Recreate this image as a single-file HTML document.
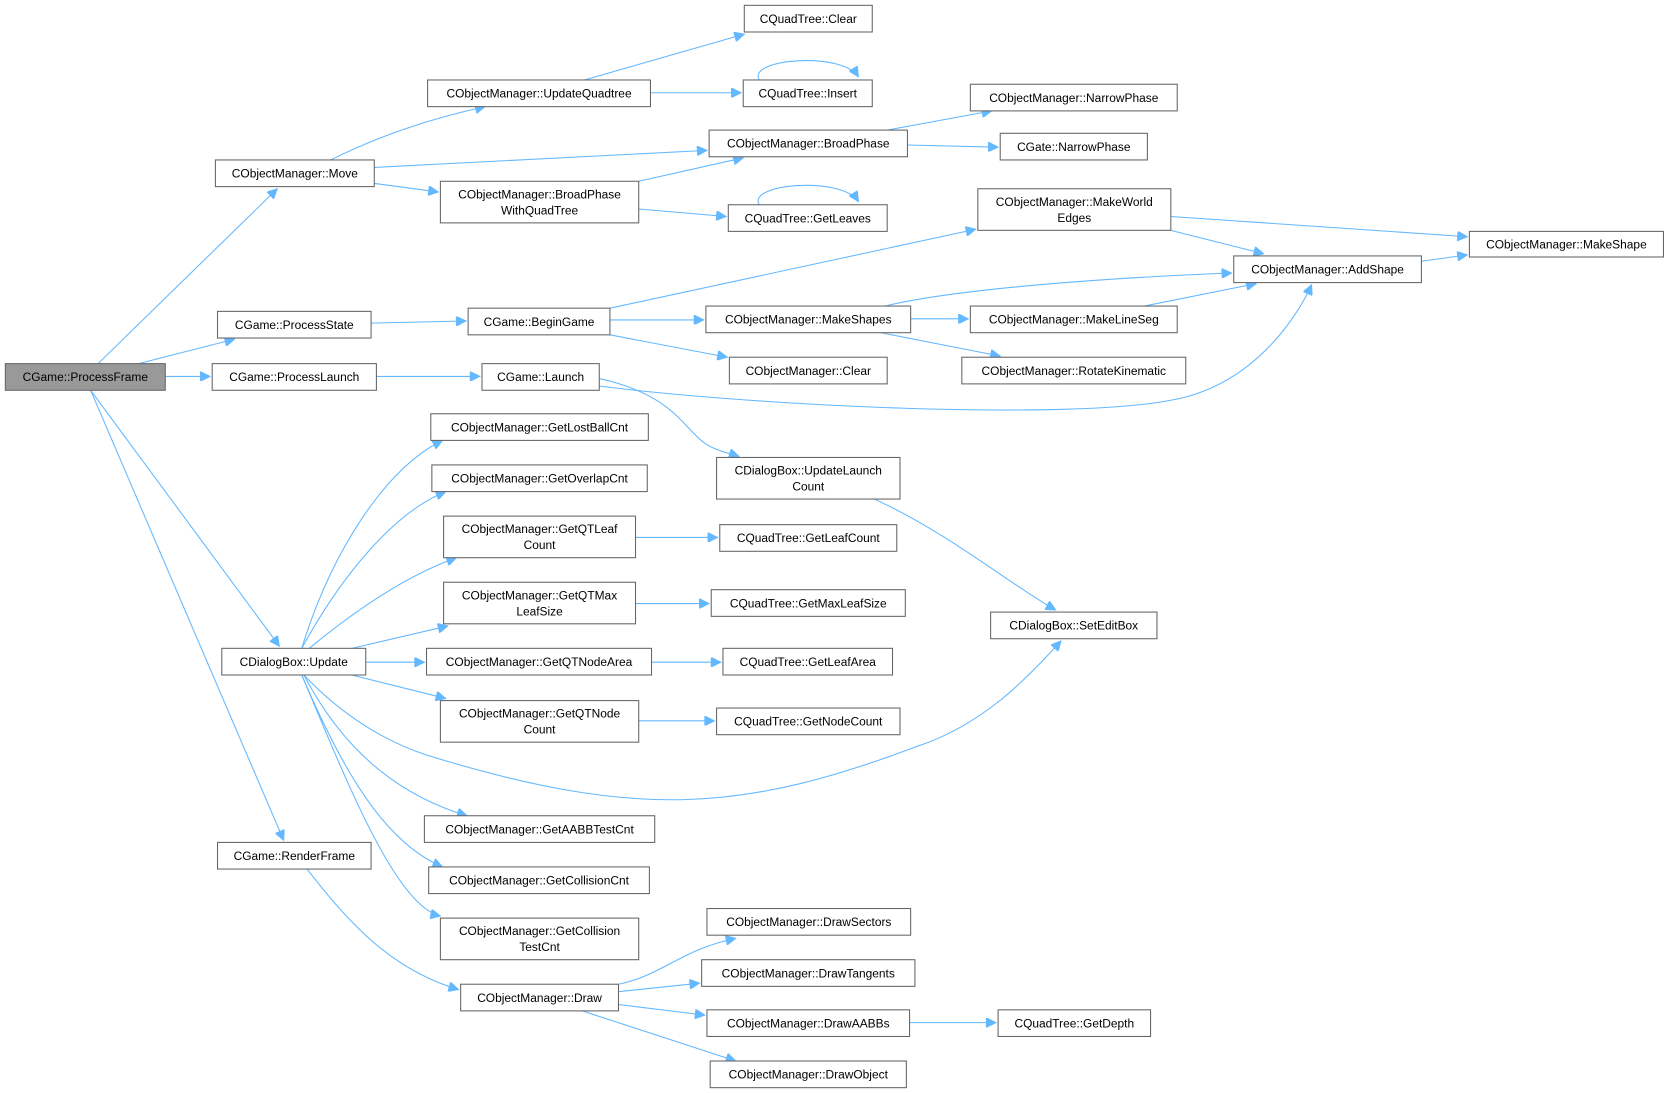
<!DOCTYPE html>
<html><head><meta charset="utf-8"><style>
html,body{margin:0;padding:0;background:#fff;}
svg{display:block}
text{font-family:"Liberation Sans",sans-serif;font-size:11.2px;fill:#000;text-anchor:middle}
rect{fill:#fff;stroke:#666;stroke-width:1}
path{fill:none;stroke:#63b8ff;stroke-width:1}
</style></head><body>
<svg width="1672" height="1093" viewBox="0 0 1568 1025" xmlns="http://www.w3.org/2000/svg">
<defs><marker id="a" viewBox="0 0 10 10" refX="10" refY="5" markerWidth="11" markerHeight="9" markerUnits="userSpaceOnUse" orient="auto"><path d="M0,0 L10,5 L0,10 z" style="fill:#63b8ff;stroke:#63b8ff"/></marker></defs>
<g marker-end="url(#a)">
<path d="M92,341 L260,177"/>
<path d="M130,341 L220,318"/>
<path d="M155,353 L197,353"/>
<path d="M85,366 L262,606"/>
<path d="M85,366 L266,788"/>
<path d="M310,150 C350,130 400,112 455,100"/>
<path d="M351,157 L663,141"/>
<path d="M351,172 L411,180"/>
<path d="M548,75 L698,32"/>
<path d="M610,87 L695,87"/>
<path d="M712,75 C700,55 790,48 805,72"/>
<path d="M599,170 L697,148"/>
<path d="M599,196 L681,203"/>
<path d="M712,192 C700,172 790,165 805,189"/>
<path d="M832,122 L930,104"/>
<path d="M851,136 L936,138"/>
<path d="M348,303 L437,301"/>
<path d="M572,289 L915,215"/>
<path d="M572,300 L660,300"/>
<path d="M572,314 L682,335"/>
<path d="M830,287 C900,270 1050,260 1155,256"/>
<path d="M854,299 L908,299"/>
<path d="M826,312 L938,334"/>
<path d="M1098,203 L1376,222"/>
<path d="M1098,216 L1185,238"/>
<path d="M1073,287 L1178,266"/>
<path d="M1333,245 L1376,239"/>
<path d="M353,353 L450,353"/>
<path d="M562,362 C700,380 1000,395 1100,375 C1180,360 1220,290 1230,267"/>
<path d="M562,355 C630,370 640,400 660,415 C670,422 680,424 693,428"/>
<path d="M820,468 C890,500 950,550 990,572"/>
<path d="M283,608 C310,520 360,440 415,413"/>
<path d="M283,608 C320,540 370,480 418,461"/>
<path d="M290,608 C330,575 380,540 428,523"/>
<path d="M330,608 L420,587"/>
<path d="M343,621 L398,621"/>
<path d="M330,633 L418,655"/>
<path d="M285,633 C320,670 360,695 400,708 C600,770 700,760 860,700 C920,680 960,640 995,601"/>
<path d="M285,633 C320,700 370,745 438,765"/>
<path d="M283,633 C320,720 360,790 415,813"/>
<path d="M283,633 C320,720 370,850 413,859"/>
<path d="M596,504 L673,504"/>
<path d="M596,566 L665,566"/>
<path d="M611,621 L676,621"/>
<path d="M599,676 L670,676"/>
<path d="M288,815 C330,870 370,910 430,928"/>
<path d="M580,923 C620,915 640,890 690,880"/>
<path d="M580,930 L656,922"/>
<path d="M580,942 L661,952"/>
<path d="M546,948 L690,995"/>
<path d="M853,959 L934,959"/>
</g>
<g>
<rect x="5" y="341" width="150" height="25" style="fill:#999"/><text x="80" y="357.5">CGame::ProcessFrame</text>
<rect x="202" y="150" width="149" height="25"/><text x="276.5" y="166.5">CObjectManager::Move</text>
<rect x="204" y="292" width="144" height="25"/><text x="276" y="308.5">CGame::ProcessState</text>
<rect x="199" y="341" width="154" height="25"/><text x="276" y="357.5">CGame::ProcessLaunch</text>
<rect x="208" y="608" width="135" height="25"/><text x="275.5" y="624.5">CDialogBox::Update</text>
<rect x="204" y="790" width="144" height="25"/><text x="276" y="806.5">CGame::RenderFrame</text>
<rect x="401" y="75" width="209" height="25"/><text x="505.5" y="91.5">CObjectManager::UpdateQuadtree</text>
<rect x="413" y="170" width="186" height="39"/><text x="506" y="186">CObjectManager::BroadPhase</text><text x="506" y="201">WithQuadTree</text>
<rect x="439" y="289" width="133" height="25"/><text x="505.5" y="305.5">CGame::BeginGame</text>
<rect x="452" y="341" width="110" height="25"/><text x="507" y="357.5">CGame::Launch</text>
<rect x="404" y="388" width="204" height="25"/><text x="506" y="404.5">CObjectManager::GetLostBallCnt</text>
<rect x="405" y="436" width="202" height="25"/><text x="506" y="452.5">CObjectManager::GetOverlapCnt</text>
<rect x="416" y="484" width="180" height="39"/><text x="506" y="500">CObjectManager::GetQTLeaf</text><text x="506" y="515">Count</text>
<rect x="416" y="546" width="180" height="39"/><text x="506" y="562">CObjectManager::GetQTMax</text><text x="506" y="577">LeafSize</text>
<rect x="400" y="608" width="211" height="25"/><text x="505.5" y="624.5">CObjectManager::GetQTNodeArea</text>
<rect x="413" y="657" width="186" height="39"/><text x="506" y="673">CObjectManager::GetQTNode</text><text x="506" y="688">Count</text>
<rect x="398" y="765" width="216" height="25"/><text x="506" y="781.5">CObjectManager::GetAABBTestCnt</text>
<rect x="402" y="813" width="207" height="25"/><text x="505.5" y="829.5">CObjectManager::GetCollisionCnt</text>
<rect x="413" y="861" width="186" height="39"/><text x="506" y="877">CObjectManager::GetCollision</text><text x="506" y="892">TestCnt</text>
<rect x="432" y="923" width="148" height="25"/><text x="506" y="939.5">CObjectManager::Draw</text>
<rect x="698" y="5" width="120" height="25"/><text x="758" y="21.5">CQuadTree::Clear</text>
<rect x="697" y="75" width="121" height="25"/><text x="757.5" y="91.5">CQuadTree::Insert</text>
<rect x="665" y="122" width="186" height="25"/><text x="758" y="138.5">CObjectManager::BroadPhase</text>
<rect x="683" y="192" width="149" height="25"/><text x="757.5" y="208.5">CQuadTree::GetLeaves</text>
<rect x="662" y="287" width="192" height="25"/><text x="758" y="303.5">CObjectManager::MakeShapes</text>
<rect x="684" y="335" width="148" height="25"/><text x="758" y="351.5">CObjectManager::Clear</text>
<rect x="672" y="429" width="172" height="39"/><text x="758" y="445">CDialogBox::UpdateLaunch</text><text x="758" y="460">Count</text>
<rect x="675" y="492" width="166" height="25"/><text x="758" y="508.5">CQuadTree::GetLeafCount</text>
<rect x="667" y="553" width="182" height="25"/><text x="758" y="569.5">CQuadTree::GetMaxLeafSize</text>
<rect x="678" y="608" width="159" height="25"/><text x="757.5" y="624.5">CQuadTree::GetLeafArea</text>
<rect x="672" y="664" width="172" height="25"/><text x="758" y="680.5">CQuadTree::GetNodeCount</text>
<rect x="663" y="852" width="191" height="25"/><text x="758.5" y="868.5">CObjectManager::DrawSectors</text>
<rect x="658" y="900" width="200" height="25"/><text x="758" y="916.5">CObjectManager::DrawTangents</text>
<rect x="663" y="947" width="190" height="25"/><text x="758" y="963.5">CObjectManager::DrawAABBs</text>
<rect x="666" y="995" width="184" height="25"/><text x="758" y="1011.5">CObjectManager::DrawObject</text>
<rect x="910" y="79" width="194" height="25"/><text x="1007" y="95.5">CObjectManager::NarrowPhase</text>
<rect x="938" y="125" width="138" height="25"/><text x="1007" y="141.5">CGate::NarrowPhase</text>
<rect x="917" y="177" width="181" height="39"/><text x="1007.5" y="193">CObjectManager::MakeWorld</text><text x="1007.5" y="208">Edges</text>
<rect x="910" y="287" width="194" height="25"/><text x="1007" y="303.5">CObjectManager::MakeLineSeg</text>
<rect x="902" y="335" width="210" height="25"/><text x="1007" y="351.5">CObjectManager::RotateKinematic</text>
<rect x="929" y="574" width="156" height="25"/><text x="1007" y="590.5">CDialogBox::SetEditBox</text>
<rect x="936" y="947" width="143" height="25"/><text x="1007.5" y="963.5">CQuadTree::GetDepth</text>
<rect x="1157" y="240" width="176" height="25"/><text x="1245" y="256.5">CObjectManager::AddShape</text>
<rect x="1378" y="217" width="182" height="24"/><text x="1469" y="233">CObjectManager::MakeShape</text>
</g>
</svg>
</body></html>
